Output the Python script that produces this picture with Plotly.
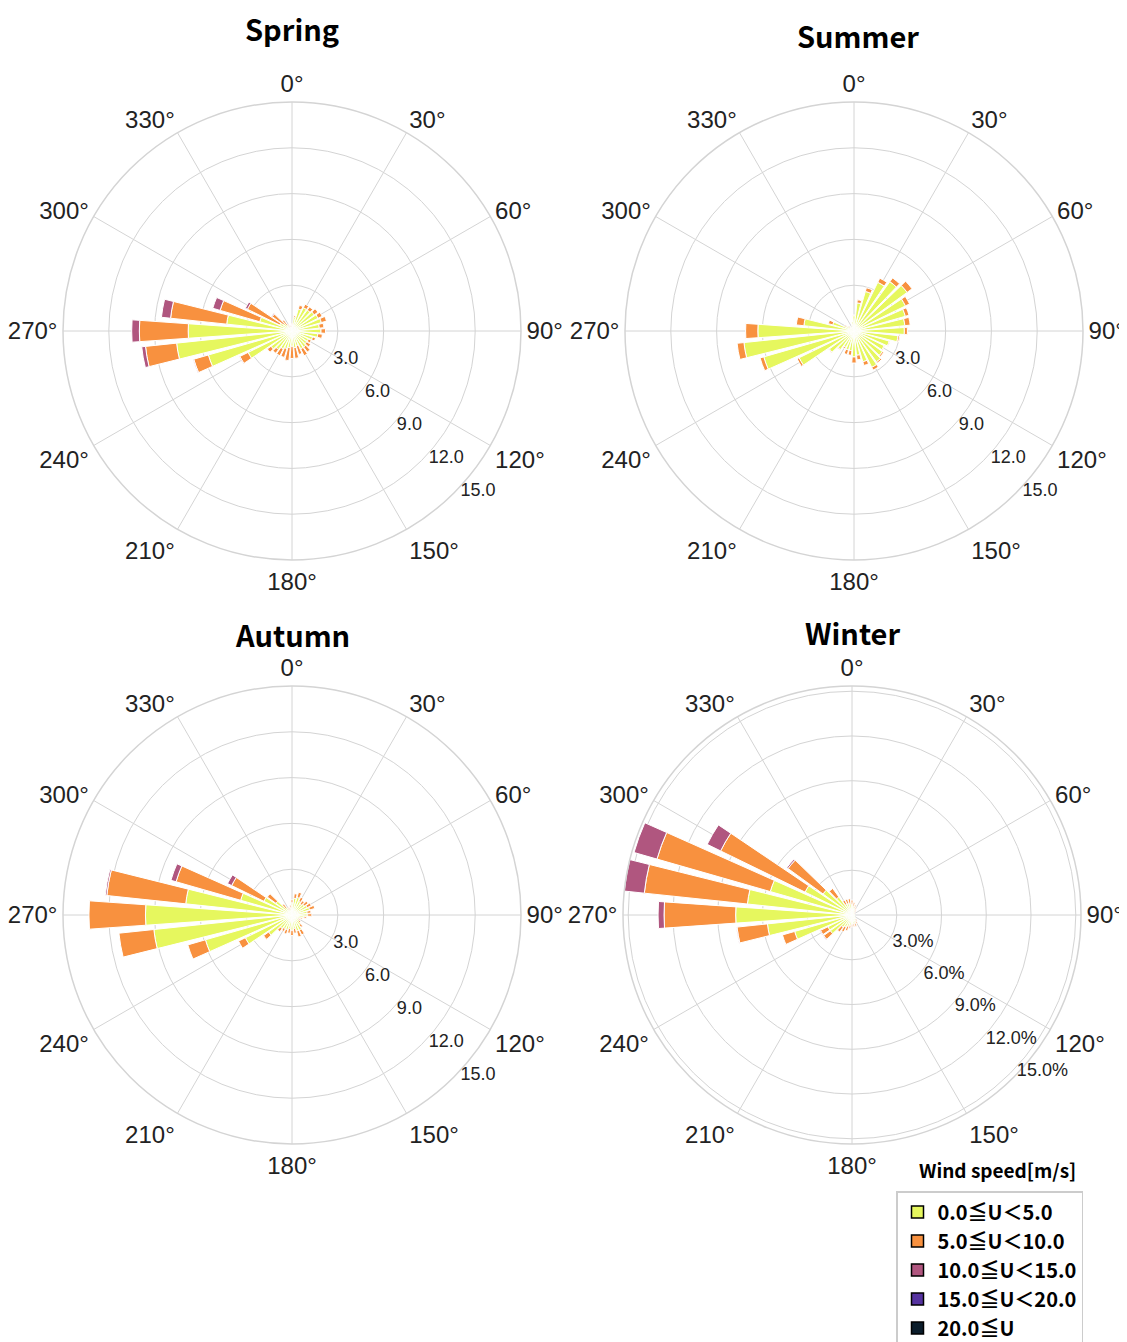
import plotly.graph_objects as go

# ---------------- data ----------------
directions = list(range(0, 360, 10))

speed_labels = ["0.0≦U＜5.0", "5.0≦U＜10.0", "10.0≦U＜15.0", "15.0≦U＜20.0", "20.0≦U"]
colors = ["#e6f75e", "#f8913f", "#b0567f", "#5633a0", "#0b1d2b"]

seasons = ["Spring", "Summer", "Autumn", "Winter"]

spring_u0 = [0.4, 0.9, 1.5, 1.7, 1.7, 1.8, 1.9, 2.0, 1.8, 1.9, 1.7, 1.4,
             1.2, 1.2, 1.3, 1.3, 1.0, 1.1, 1.0, 1.1, 1.2, 1.3, 1.5, 1.7,
             3.2, 5.7, 7.6, 6.8, 4.3, 2.2, 0.9, 0.7, 0.5, 0.3, 0.3, 0.3]
spring_u5 = [0.1, 0.1, 0.25, 0.25, 0.25, 0.3, 0.3, 0.35, 0.3, 0.3, 0.3, 0.2,
             0.2, 0.3, 0.4, 0.5, 0.6, 0.7, 0.8, 0.85, 0.6, 0.5, 0.3, 0.3,
             0.6, 1.0, 2.05, 3.2, 3.7, 2.7, 2.35, 0.9, 0.4, 0.2, 0.1, 0.1]
spring_u10 = [0, 0, 0, 0, 0, 0, 0, 0, 0, 0, 0, 0,
              0, 0, 0, 0, 0, 0, 0, 0, 0, 0, 0, 0,
              0.05, 0.05, 0.25, 0.5, 0.6, 0.5, 0.15, 0.05, 0, 0, 0, 0]

summer_u0 = [1.0, 1.85, 2.7, 3.55, 4.0, 4.3, 3.75, 3.5, 3.35, 3.3, 2.9, 2.4,
             2.2, 2.3, 2.5, 2.65, 2.1, 1.6, 1.7, 1.3, 1.3, 1.2, 1.5, 2.0,
             4.0, 6.15, 7.25, 6.3, 3.3, 1.45, 0.6, 0.4, 0.3, 0.3, 0.4, 0.6]
summer_u5 = [0.05, 0.2, 0.25, 0.3, 0.3, 0.4, 0.3, 0.25, 0.35, 0.2, 0.1, 0.05,
             0.05, 0.1, 0.1, 0.2, 0.25, 0.3, 0.4, 0.3, 0.3, 0.1, 0.05, 0.05,
             0.15, 0.25, 0.45, 0.8, 0.5, 0.3, 0.1, 0.05, 0, 0, 0, 0]
summer_u10 = [0] * 36

autumn_u0 = [0.8, 1.1, 1.2, 1.0, 0.9, 1.0, 1.1, 1.2, 1.0, 1.0, 0.8, 0.6,
             0.5, 0.6, 0.8, 1.1, 1.1, 0.9, 1.0, 0.9, 1.0, 1.0, 1.1, 1.9,
             3.4, 5.9, 9.1, 9.6, 7.0, 3.5, 2.05, 1.3, 0.6, 0.4, 0.4, 0.5]
autumn_u5 = [0.2, 0.3, 0.35, 0.3, 0.25, 0.3, 0.3, 0.35, 0.25, 0.3, 0.15, 0.1,
             0.1, 0.1, 0.2, 0.35, 0.4, 0.3, 0.35, 0.3, 0.3, 0.2, 0.25, 0.4,
             0.5, 1.2, 2.3, 3.7, 5.2, 4.4, 2.35, 0.7, 0.3, 0.15, 0.1, 0.15]
autumn_u10 = [0, 0, 0, 0, 0, 0, 0, 0, 0, 0, 0, 0,
              0, 0, 0, 0, 0, 0, 0, 0, 0, 0, 0, 0,
              0, 0, 0, 0, 0.1, 0.35, 0.3, 0, 0, 0, 0, 0]

winter_u0 = [0.7, 0.6, 0.5, 0.4, 0.3, 0.2, 0.2, 0.15, 0.15, 0.2, 0.2, 0.2,
             0.2, 0.3, 0.4, 0.5, 0.6, 0.6, 0.6, 0.7, 0.8, 0.9, 1.0, 1.8,
             1.8, 4.0, 5.7, 7.8, 7.05, 5.7, 3.5, 2.4, 1.5, 0.8, 0.8, 0.8]
winter_u5 = [0.3, 0.25, 0.2, 0.15, 0.1, 0.05, 0.05, 0, 0, 0, 0, 0,
             0, 0, 0.1, 0.15, 0.2, 0.2, 0.2, 0.2, 0.3, 0.35, 0.4, 0.55,
             0.55, 0.85, 2.05, 4.8, 6.95, 7.9, 6.3, 2.9, 0.7, 0.3, 0.3, 0.3]
winter_u10 = [0, 0, 0, 0, 0, 0, 0, 0, 0, 0, 0, 0,
              0, 0, 0, 0, 0, 0, 0, 0, 0, 0, 0, 0.05,
              0.05, 0, 0.05, 0.4, 1.35, 1.6, 1.0, 0.1, 0, 0, 0, 0]

zeros = [0] * 36
season_data = {
    "Spring": [spring_u0, spring_u5, spring_u10, zeros, zeros],
    "Summer": [summer_u0, summer_u5, summer_u10, zeros, zeros],
    "Autumn": [autumn_u0, autumn_u5, autumn_u10, zeros, zeros],
    "Winter": [winter_u0, winter_u5, winter_u10, zeros, zeros],
}

radial_ticks = [3, 6, 9, 12, 15]
angular_ticks = list(range(0, 360, 30))

# ---------------- figure ----------------
OFF = 8                      # page body margin (top/left)
W, H = 1127 - OFF, 1342 - OFF
R = 229
centers = {"Spring": (292, 331), "Summer": (854, 331),
           "Autumn": (292, 915), "Winter": (852, 915)}
rmax = {"Spring": 15.0, "Summer": 15.0, "Autumn": 15.0, "Winter": 15.35}
title_pos = {"Spring": (292, 28), "Summer": (858, 35),
             "Autumn": (292, 634), "Winter": (852, 632)}


def px(x):
    return (x - OFF) / W


def py(y):
    return 1 - (y - OFF) / H


fig = go.Figure()
grid = "#d4d4d4"
RA = -46

for i, s in enumerate(seasons):
    pid = "polar" if i == 0 else f"polar{i+1}"
    for k in range(5):
        fig.add_trace(go.Barpolar(
            r=season_data[s][k], theta=directions, width=8,
            marker=dict(color=colors[k], line=dict(color="white", width=1)),
            name=speed_labels[k], showlegend=False, subplot=pid,
        ))
    cx, cy = centers[s]
    suffix = "%" if s == "Winter" else ""
    fig.update_layout(**{pid: dict(
        domain=dict(x=[px(cx - R), px(cx + R)], y=[py(cy + R), py(cy - R)]),
        bgcolor="white",
        barmode="stack",
        bargap=0,
        radialaxis=dict(range=[0, rmax[s]], tickvals=radial_ticks,
                        ticktext=[f"{v:.1f}{suffix}" for v in radial_ticks],
                        angle=RA, tickangle=RA, side="counterclockwise",
                        showline=False, ticks="", gridcolor=grid, gridwidth=1,
                        tickfont=dict(family="Liberation Sans", size=18, color="#222")),
        angularaxis=dict(direction="clockwise", rotation=90,
                         tickvals=angular_ticks,
                         ticktext=[f"{a}°" for a in angular_ticks],
                         showline=True, linecolor=grid, linewidth=1.5,
                         gridcolor=grid, gridwidth=1, ticks="",
                         tickfont=dict(family="Liberation Sans", size=24, color="#222")),
    )})
    tx, ty = title_pos[s]
    fig.add_annotation(text=f"<b>{s}</b>", x=px(tx), y=py(ty),
                       xref="paper", yref="paper", showarrow=False,
                       xanchor="center", yanchor="middle",
                       font=dict(family="Noto Sans CJK JP", size=29, color="black"))

# legend-only traces on a hidden polar subplot
for k in range(5):
    fig.add_trace(go.Barpolar(
        r=[0], theta=[0], name=speed_labels[k], subplot="polar5",
        marker=dict(color=colors[k], line=dict(color="black", width=1.5)),
        showlegend=True, hoverinfo="skip",
    ))
fig.update_layout(polar5=dict(
    domain=dict(x=[0.0, 0.02], y=[0.0, 0.02]),
    bgcolor="rgba(0,0,0,0)",
    radialaxis=dict(visible=False), angularaxis=dict(visible=False),
))

fig.add_annotation(text="<b>Wind speed[m/s]</b>", x=px(997), y=py(1169),
                   xref="paper", yref="paper", showarrow=False,
                   xanchor="center", yanchor="middle",
                   font=dict(family="Noto Sans CJK JP", size=19, color="black"))

fig.update_layout(
    width=W, height=H,
    margin=dict(l=0, r=0, t=0, b=0, autoexpand=False),
    paper_bgcolor="white",
    showlegend=True,
    legend=dict(x=px(896), y=py(1191), xanchor="left", yanchor="top",
                bgcolor="white", bordercolor="#cccccc", borderwidth=1.5,
                font=dict(family="Noto Sans CJK JP", size=20, color="black",
                          weight="bold"),
                tracegroupgap=0),
)

fig.write_html("out.html")
